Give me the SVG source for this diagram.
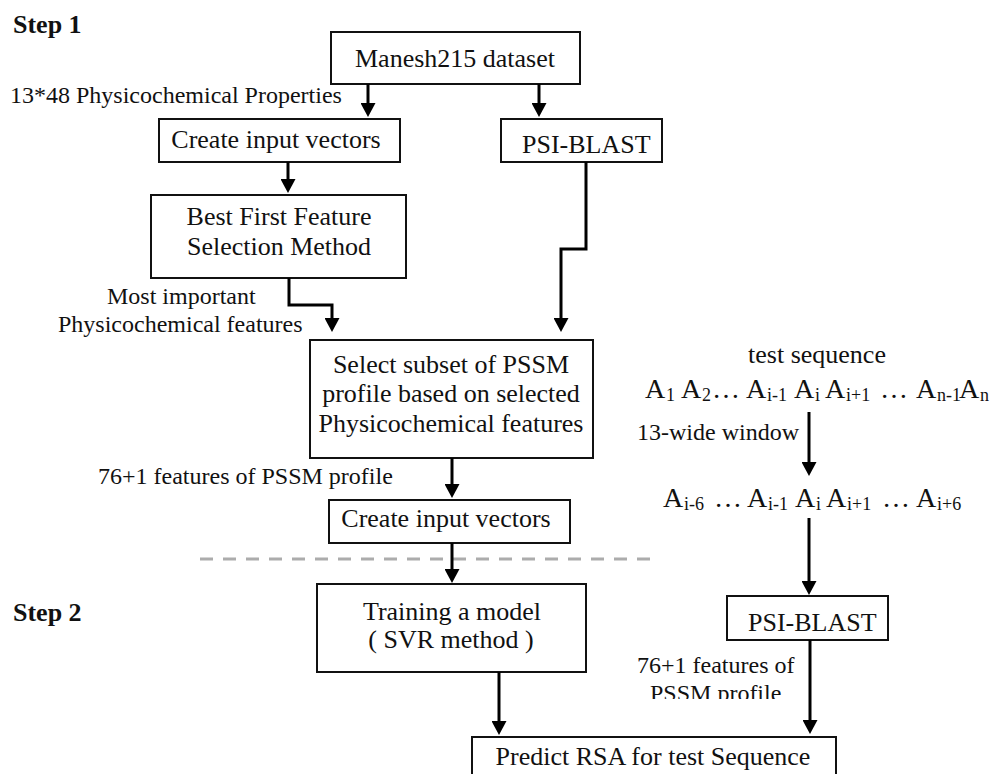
<svg xmlns="http://www.w3.org/2000/svg" width="992" height="774" viewBox="0 0 992 774">
  <style>
    text { font-family: "Liberation Serif", "Times New Roman", serif; fill: #111; }
    .box { fill: #fff; stroke: #111; stroke-width: 2; }
    .t26 { font-size: 26px; }
    .t24 { font-size: 24px; }
    .mid { text-anchor: middle; }
    .step { font-size: 26px; font-weight: bold; }
    .seq { font-size: 28px; }
    .sub { font-size: 18px; }
    .wire { fill: none; stroke: #000; stroke-width: 3; marker-end: url(#arrow); }
    .divider { fill: none; stroke: #acacac; stroke-width: 3; stroke-dasharray: 13 10; }
  </style>
  <defs>
    <marker id="arrow" markerUnits="userSpaceOnUse" viewBox="0 0 14 15" markerWidth="14" markerHeight="15" refX="4" refY="7.5" orient="auto">
      <path d="M0,0 L14,7.5 L0,15 Z" fill="#000"/>
    </marker>
    <clipPath id="cutLabel">
      <rect x="600" y="640" width="220" height="59"/>
    </clipPath>
  </defs>

  <rect width="992" height="774" fill="#fff"/>

  <!-- stage labels -->
  <text class="step" x="13" y="33">Step 1</text>
  <text class="step" x="13" y="621">Step 2</text>

  <!-- separator between the two stages -->
  <line class="divider" x1="200" y1="559" x2="651" y2="559"/>

  <!-- free labels -->
  <text class="t24" x="10" y="103">13*48 Physicochemical Properties</text>
  <text class="t24" x="107" y="304">Most important</text>
  <text class="t24" x="58" y="332">Physicochemical features</text>
  <text class="t24" x="98" y="484">76+1 features of PSSM profile</text>
  <text class="t26 mid" x="817" y="363">test sequence</text>
  <text class="t24" x="637" y="440">13-wide window</text>
  <text class="t24" x="637" y="673">76+1 features of</text>
  <text class="t24" x="650" y="701" clip-path="url(#cutLabel)">PSSM profile</text>

  <!-- full test sequence -->
  <g id="seq-full">
    <text class="seq" y="398">
      <tspan x="645">A</tspan><tspan class="sub" x="666" y="401">1</tspan>
      <tspan x="681" y="398">A</tspan><tspan class="sub" x="702" y="401">2</tspan>
      <tspan x="712" y="398">…</tspan>
      <tspan x="746" y="398">A</tspan><tspan class="sub" x="767" y="401">i-1</tspan>
      <tspan x="794" y="398">A</tspan><tspan class="sub" x="815" y="401">i</tspan>
      <tspan x="825" y="398">A</tspan><tspan class="sub" x="846" y="401">i+1</tspan>
      <tspan x="880" y="398">…</tspan>
      <tspan x="916" y="398">A</tspan><tspan class="sub" x="937" y="401">n-1</tspan>
      <tspan x="959" y="398">A</tspan><tspan class="sub" x="980" y="401">n</tspan>
    </text>
  </g>

  <!-- 13-residue window -->
  <g id="seq-window">
    <text class="seq" y="507">
      <tspan x="663">A</tspan><tspan class="sub" x="684" y="510">i-6</tspan>
      <tspan x="714" y="507">…</tspan>
      <tspan x="747" y="507">A</tspan><tspan class="sub" x="768" y="510">i-1</tspan>
      <tspan x="795" y="507">A</tspan><tspan class="sub" x="816" y="510">i</tspan>
      <tspan x="826" y="507">A</tspan><tspan class="sub" x="847" y="510">i+1</tspan>
      <tspan x="882" y="507">…</tspan>
      <tspan x="916" y="507">A</tspan><tspan class="sub" x="937" y="510">i+6</tspan>
    </text>
  </g>

  <!-- nodes -->
  <g id="dataset">
    <rect class="box" x="331" y="32" width="249" height="52"/>
    <text class="t26 mid" x="455" y="67">Manesh215 dataset</text>
  </g>
  <g id="input-vectors-1">
    <rect class="box" x="159" y="119" width="241" height="43"/>
    <text class="t26 mid" x="276" y="148">Create input vectors</text>
  </g>
  <g id="psiblast-1">
    <rect class="box" x="501" y="119" width="161" height="43"/>
    <text class="t26" x="522" y="153">PSI-BLAST</text>
  </g>
  <g id="feature-selection">
    <rect class="box" x="151" y="195" width="255" height="83"/>
    <text class="t26 mid" x="279" y="225">Best First Feature</text>
    <text class="t26 mid" x="279" y="255">Selection Method</text>
  </g>
  <g id="pssm-subset">
    <rect class="box" x="310" y="340" width="283" height="118"/>
    <text class="t26 mid" x="451" y="373">Select subset of PSSM</text>
    <text class="t26 mid" x="451" y="402">profile based on selected</text>
    <text class="t26 mid" x="451" y="432">Physicochemical features</text>
  </g>
  <g id="input-vectors-2">
    <rect class="box" x="329" y="500" width="241" height="43"/>
    <text class="t26 mid" x="446" y="527">Create input vectors</text>
  </g>
  <g id="training">
    <rect class="box" x="317" y="584" width="269" height="88"/>
    <text class="t26 mid" x="452" y="620">Training a model</text>
    <text class="t26 mid" x="451" y="648">( SVR method )</text>
  </g>
  <g id="psiblast-2">
    <rect class="box" x="727" y="596" width="161" height="44"/>
    <text class="t26" x="748" y="631">PSI-BLAST</text>
  </g>
  <g id="predict">
    <rect class="box" x="472" y="737" width="364" height="60"/>
    <text class="t26 mid" x="653" y="765">Predict RSA for test Sequence</text>
  </g>

  <!-- connectors -->
  <g id="connectors">
    <path class="wire" d="M368,84 V107"/>
    <path class="wire" d="M539,84 V107"/>
    <path class="wire" d="M288,162 V183"/>
    <path class="wire" d="M289,278 V305 H332 V322"/>
    <path class="wire" d="M586,162 V249 H561 V322"/>
    <path class="wire" d="M452,458 V488"/>
    <path class="wire" d="M452,543 V573"/>
    <path class="wire" d="M499,672 V725"/>
    <path class="wire" d="M809,412 V466"/>
    <path class="wire" d="M809,518 V585"/>
    <path class="wire" d="M810,640 V724"/>
  </g>
</svg>
